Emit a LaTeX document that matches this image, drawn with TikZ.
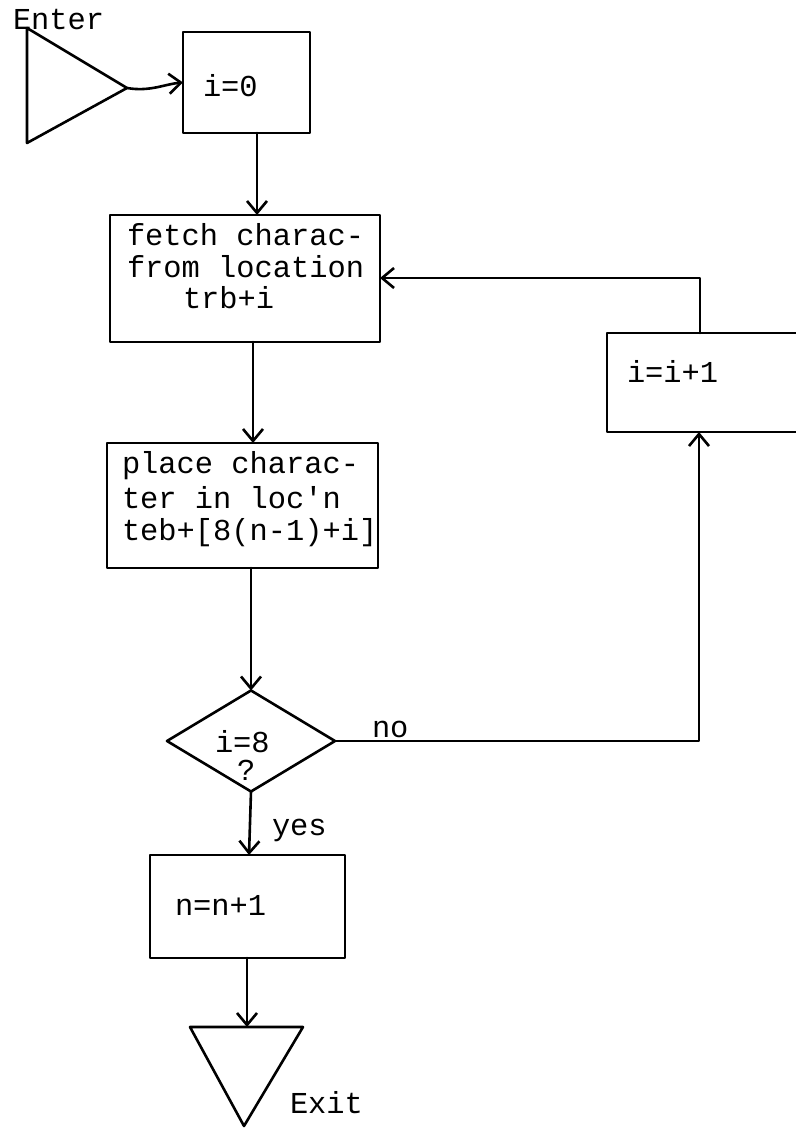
\documentclass[tikz,border=0pt]{standalone}
\usepackage{fontspec}
\setmonofont{Liberation Mono}
\usetikzlibrary{arrows.meta,shapes.geometric}
\tikzset{
  ln/.style={line width=1.3pt, line cap=round, line join=round},
  arr/.style={ln, -{Straight Barb[length=6pt,width=10pt,line width=1.3pt]}},
  procbox/.style={draw, ln, rectangle, inner sep=0pt, outer sep=0pt},
  decbox/.style={draw, ln, diamond, inner sep=0pt, outer sep=0pt},
  txt/.style={inner sep=0pt, outer sep=0pt, anchor=base west, font=\ttfamily\fontsize{15.2}{16}\selectfont},
}
\begin{document}
\begin{tikzpicture}[x=0.5pt,y=-0.5pt]
\useasboundingbox (0,0) rectangle (796,1129);
\clip (0,0) rectangle (796,1129);

% Enter triangle
\coordinate (enA) at (27,28);
\coordinate (enTip) at (127,88);
\coordinate (enB) at (27,143);
\draw[ln] (enA) -- (enTip) -- (enB) -- cycle;
\node[txt] (enterlbl) at (13,30) {Enter};

% boxes
\node[procbox, minimum width=63.5pt, minimum height=50.5pt] (i0) at (246.5,82.5) {};
\node[txt] (i0t) at (203,97) {i=0};

\node[procbox, minimum width=135pt, minimum height=63.5pt] (fetch) at (245,278.5) {};
\node[txt] (f1) at (127,245) {fetch charac-};
\node[txt] (f2) at (127,277) {from location};
\node[txt] (f3) at (183,308) {trb+i};

\node[procbox, minimum width=135.5pt, minimum height=62.5pt] (place) at (242.5,505.5) {};
\node[txt] (p1) at (122,473) {place charac-};
\node[txt] (p2) at (122,508) {ter in loc'n};
\node[txt] (p3) at (122,540) {teb+[8(n-1)+i]};

\node[decbox, minimum width=84pt, minimum height=50.5pt] (dec) at (251,741) {};
\node[txt] (d1) at (215,752) {i=8};
\node[txt] (d2) at (237,780) {?};

\node[procbox, minimum width=102.5pt, minimum height=49.5pt] (inc) at (709.5,382.5) {};
\node[txt] (inct) at (627,382) {i=i+1};

\node[procbox, minimum width=97.5pt, minimum height=51.5pt] (nbox) at (247.5,906.5) {};
\node[txt] (nt) at (175,915) {n=n+1};

% Exit triangle
\coordinate (exA) at (190,1027);
\coordinate (exB) at (303,1027);
\coordinate (exTip) at (244,1126);
\coordinate (exTop) at (247,1027);
\draw[ln] (exA) -- (exB) -- (exTip) -- cycle;
\node[txt] (exitlbl) at (290,1113) {Exit};

% labels
\node[txt] (nolbl) at (372,737) {no};
\node[txt] (yeslbl) at (272,835) {yes};

% connectors
\draw[arr] (enTip) .. controls (150,92) and (165,84) .. (i0.west);
\draw[arr] (i0.south -| 257,0) -- (fetch.north -| 257,0);
\draw[arr] (fetch.south -| 253,0) -- (place.north -| 253,0);
\draw[arr] (place.south -| 251,0) -- (dec.north);
\coordinate (noCorner) at (699,741);
\draw[arr] (dec.east) -- (noCorner) -- (inc.south -| noCorner);
\coordinate (backCorner) at (700,278);
\draw[arr] (inc.north -| backCorner) -- (backCorner) -- (fetch.east |- backCorner);
\draw[arr] (dec.south) -- (nbox.north -| 249,0);
\draw[arr] (nbox.south -| 247,0) -- (exTop);
\end{tikzpicture}
\end{document}
